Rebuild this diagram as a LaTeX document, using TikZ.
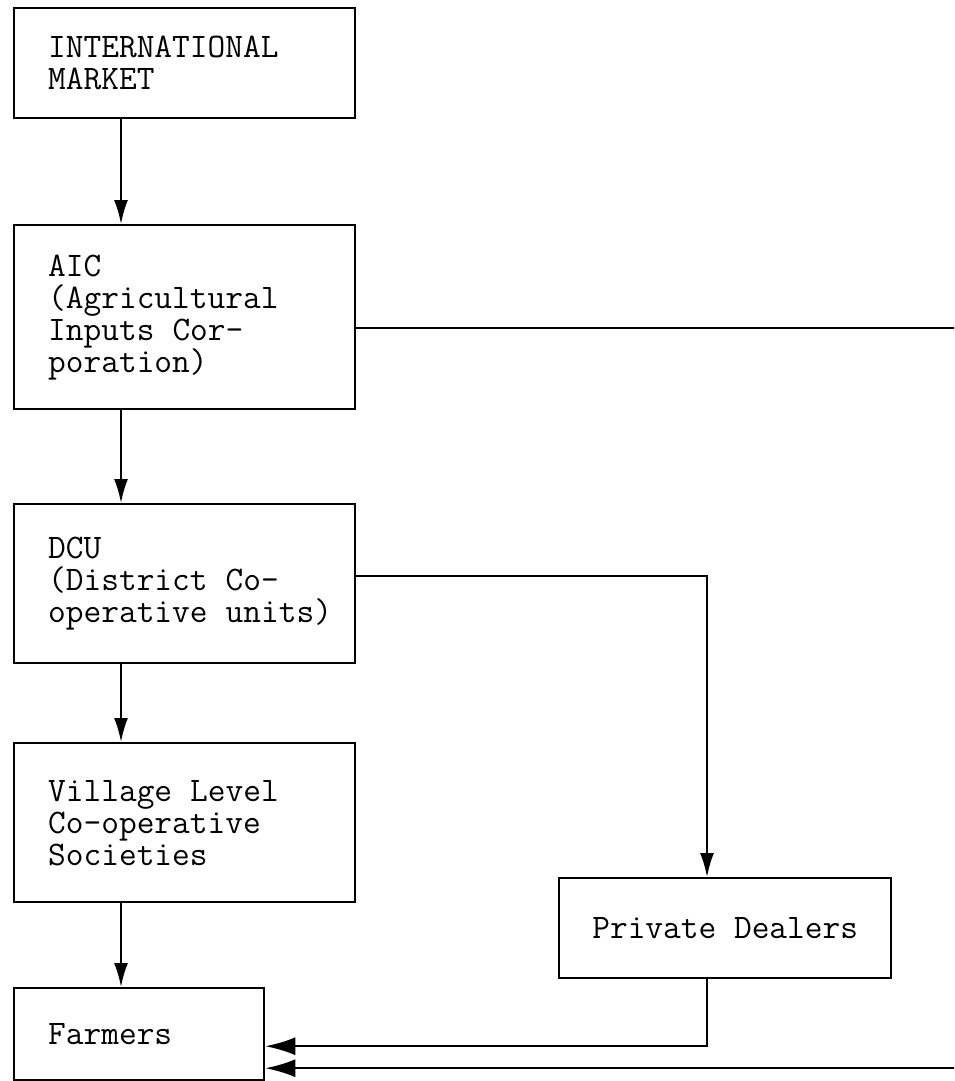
\documentclass[tikz,border=0pt]{standalone}
\usetikzlibrary{arrows.meta}

\newcommand{\boxfont}{\ttfamily\fontsize{17.2}{16}\selectfont}

\tikzset{
  chainbox/.style={draw, line width=1.2pt, rectangle, anchor=north west,
    align=left, inner xsep=17pt, font=\boxfont,
    execute at begin node={\spaceskip=0.525em plus 0pt minus 0pt\relax},
    text width=136.5pt, minimum width=170.5pt},
  flow/.style={line width=1pt, -{Latex[length=12pt,width=7pt]}},
  bigflow/.style={line width=1pt, -{Latex[length=15pt,width=9pt]}}
}

\begin{document}
\begin{tikzpicture}[x=0.5pt, y=-0.5pt]
  \useasboundingbox (0,0) rectangle (954,1081);
  \clip (0,0) rectangle (954,1081);

  % Draw the boxes of the main channel
  \node[chainbox, minimum height=55pt] (market) at (13,7)
    {INTERNATIONAL\\MARKET};
  \node[chainbox, minimum height=92pt] (aic) at (13,224)
    {AIC\\(Agricultural\\Inputs Cor-\\poration)};
  \node[chainbox, minimum height=79.5pt] (dcu) at (13,503)
    {DCU\\(District Co-\\operative~units)};
  \node[chainbox, minimum height=79.5pt] (village) at (13,742)
    {Village Level\\Co-operative\\Societies};
  \node[chainbox, minimum height=46pt, text width=91pt, minimum width=125pt]
    (farmers) at (13,987) {Farmers};

  % Private dealers on the right
  \node[draw, line width=1.2pt, anchor=north west, font=\boxfont,
    minimum width=166pt, minimum height=50pt] (dealers) at (558,877)
    {Private Dealers};

  \coordinate (col) at (121,0);
  \coordinate (dealx) at (707,0);
  \coordinate (rim) at (990,0);

  % Arrows down the main channel
  \draw[flow] (market.south -| col) -- (aic.north -| col);
  \draw[flow] (aic.south -| col) -- (dcu.north -| col);
  \draw[flow] (dcu.south -| col) -- (village.north -| col);
  \draw[flow] (village.south -| col) -- (farmers.north -| col);

  % Side routes to the farmers
  \draw[flow] ([yshift=4pt]dcu.east) -| (dealers.north -| dealx);
  \draw[bigflow] (dealers.south -| dealx) |- ([yshift=-6pt]farmers.east);
  \draw[bigflow] ([yshift=-5.5pt]aic.east) -| ([yshift=-17pt]farmers.east -| rim)
    -- ([yshift=-17pt]farmers.east);

\end{tikzpicture}
\end{document}
